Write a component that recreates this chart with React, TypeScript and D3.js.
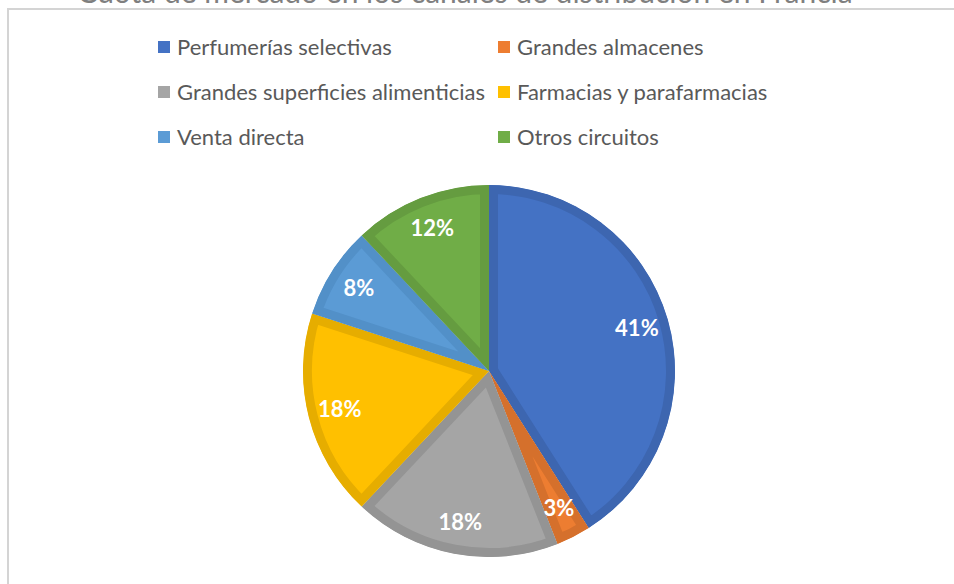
import React from "react";
import * as d3 from "d3";

const categories = [
  "Perfumerías selectivas",
  "Grandes almacenes",
  "Grandes superficies alimenticias",
  "Farmacias y parafarmacias",
  "Venta directa",
  "Otros circuitos",
];
const values = [41, 3, 18, 18, 8, 12];
const fills = ["#4472C4", "#ED7D31", "#A5A5A5", "#FFC000", "#5B9BD5", "#70AD47"];
const strokes = ["#3D66B0", "#D5702C", "#949494", "#E6AD00", "#5290C8", "#659C40"];
const title = "Cuota de mercado en los canales de distribución en Francia";

const W = 954;
const H = 584;
const cx = 489;
const cy = 371;
const R = 186;
const inner = 9;

export default function App() {
  const pie = d3.pie<number>().sort(null).value((d) => d);
  const arcs = pie(values);
  const arc = d3.arc<d3.PieArcDatum<number>>().innerRadius(0).outerRadius(R);
  const labelArc = d3.arc<d3.PieArcDatum<number>>().innerRadius(154).outerRadius(154);
  const font = "Lato, 'Open Sans', sans-serif";

  const legendX = [158, 498];
  const legendY = [47, 92, 137];

  return (
    <svg width={W} height={H} style={{ position: "absolute", left: 0, top: 0, background: "#fff" }}>
      <defs>
        {arcs.map((a, i) => (
          <clipPath id={`clip${i}`} key={i}>
            <path d={arc(a) || ""} />
          </clipPath>
        ))}
      </defs>
      <text x={465} y={2.5} textAnchor="middle" fontFamily={font} fontSize={30} fill="#7f7f7f">
        {title}
      </text>
      <rect x={8} y={9} width={W + 20} height={H + 20} fill="#fff" stroke="#d4d4d4" strokeWidth={2} />
      {categories.map((c, i) => {
        const col = i % 2;
        const row = Math.floor(i / 2);
        const x = legendX[col];
        const y = legendY[row];
        return (
          <g key={c}>
            <rect x={x} y={y - 6} width={12} height={12} fill={fills[i]} />
            <text x={x + 19} y={y} dy="0.35em" fontFamily={font} fontSize={22} fill="#595959">
              {c}
            </text>
          </g>
        );
      })}
      <g transform={`translate(${cx},${cy})`}>
        {arcs.map((a, i) => (
          <path
            key={i}
            d={arc(a) || ""}
            fill={fills[i]}
            stroke={strokes[i]}
            strokeWidth={inner * 2}
            strokeLinejoin="miter"
            clipPath={`url(#clip${i})`}
          />
        ))}
        {arcs.map((a, i) => {
          const [lx, ly] = labelArc.centroid(a);
          return (
            <text
              key={`t${i}`}
              x={lx}
              y={ly}
              dy="0.35em"
              textAnchor="middle"
              fontFamily={font}
              fontWeight="bold"
              fontSize={22}
              fill="#fff"
            >
              {values[i]}%
            </text>
          );
        })}
      </g>
    </svg>
  );
}
